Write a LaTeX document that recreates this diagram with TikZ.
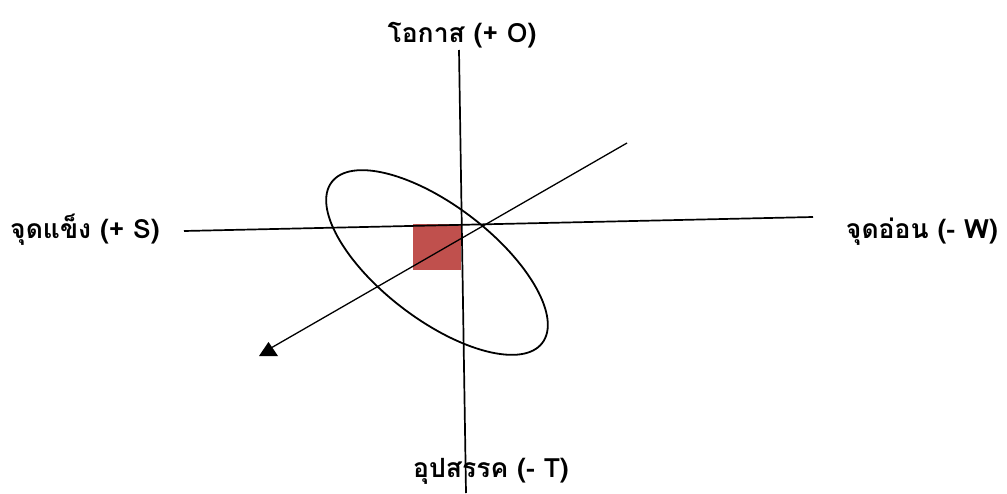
\documentclass[tikz,border=0pt]{standalone}
\usepackage{fontspec}
\usetikzlibrary{shapes.geometric}
\newfontfamily\thaifont[Script=Thai]{Loma}
\definecolor{boxred}{RGB}{192,80,77}
\begin{document}
\begin{tikzpicture}[x=1pt,y=-1pt,
  lbl/.style={font=\thaifont\bfseries\fontsize{26.5}{30}\selectfont, inner sep=0pt, anchor=base},
  axisline/.style={line width=1.7pt},
  diagline/.style={line width=1.3pt}]
\useasboundingbox (0,0) rectangle (1007,493);
% labels
\node[lbl] (O) at (462,42) {โอกาส (+ O)};
\node[lbl] (S) at (85,238) {จุดแข็ง (+ S)};
\node[lbl] (W) at (922,238) {จุดอ่อน (- W)};
\node[lbl] (T) at (491,477) {อุปสรรค (- T)};
% red square
\node[fill=boxred, minimum width=48pt, minimum height=46pt, inner sep=0pt, anchor=north west] (sq) at (413,224) {};
% ellipse
\node[draw, ellipse, line width=1.8pt, minimum width=265pt, minimum height=114pt, inner sep=0pt, rotate=-37.4] (ell) at (437,262.5) {};
% axes
\coordinate (vt) at (459,50);
\coordinate (vb) at (466,493);
\coordinate (hl) at (184,231);
\coordinate (hr) at (813,217);
\coordinate (dt) at (627,143);
\coordinate (dh) at (271,348);
\draw[axisline] (vt) -- (vb);
\draw[axisline] (hl) -- (hr);
\draw[diagline] (dt) -- (dh);
\fill (268.5,342) -- (259,356) -- (278,356) -- cycle;
\end{tikzpicture}
\end{document}
